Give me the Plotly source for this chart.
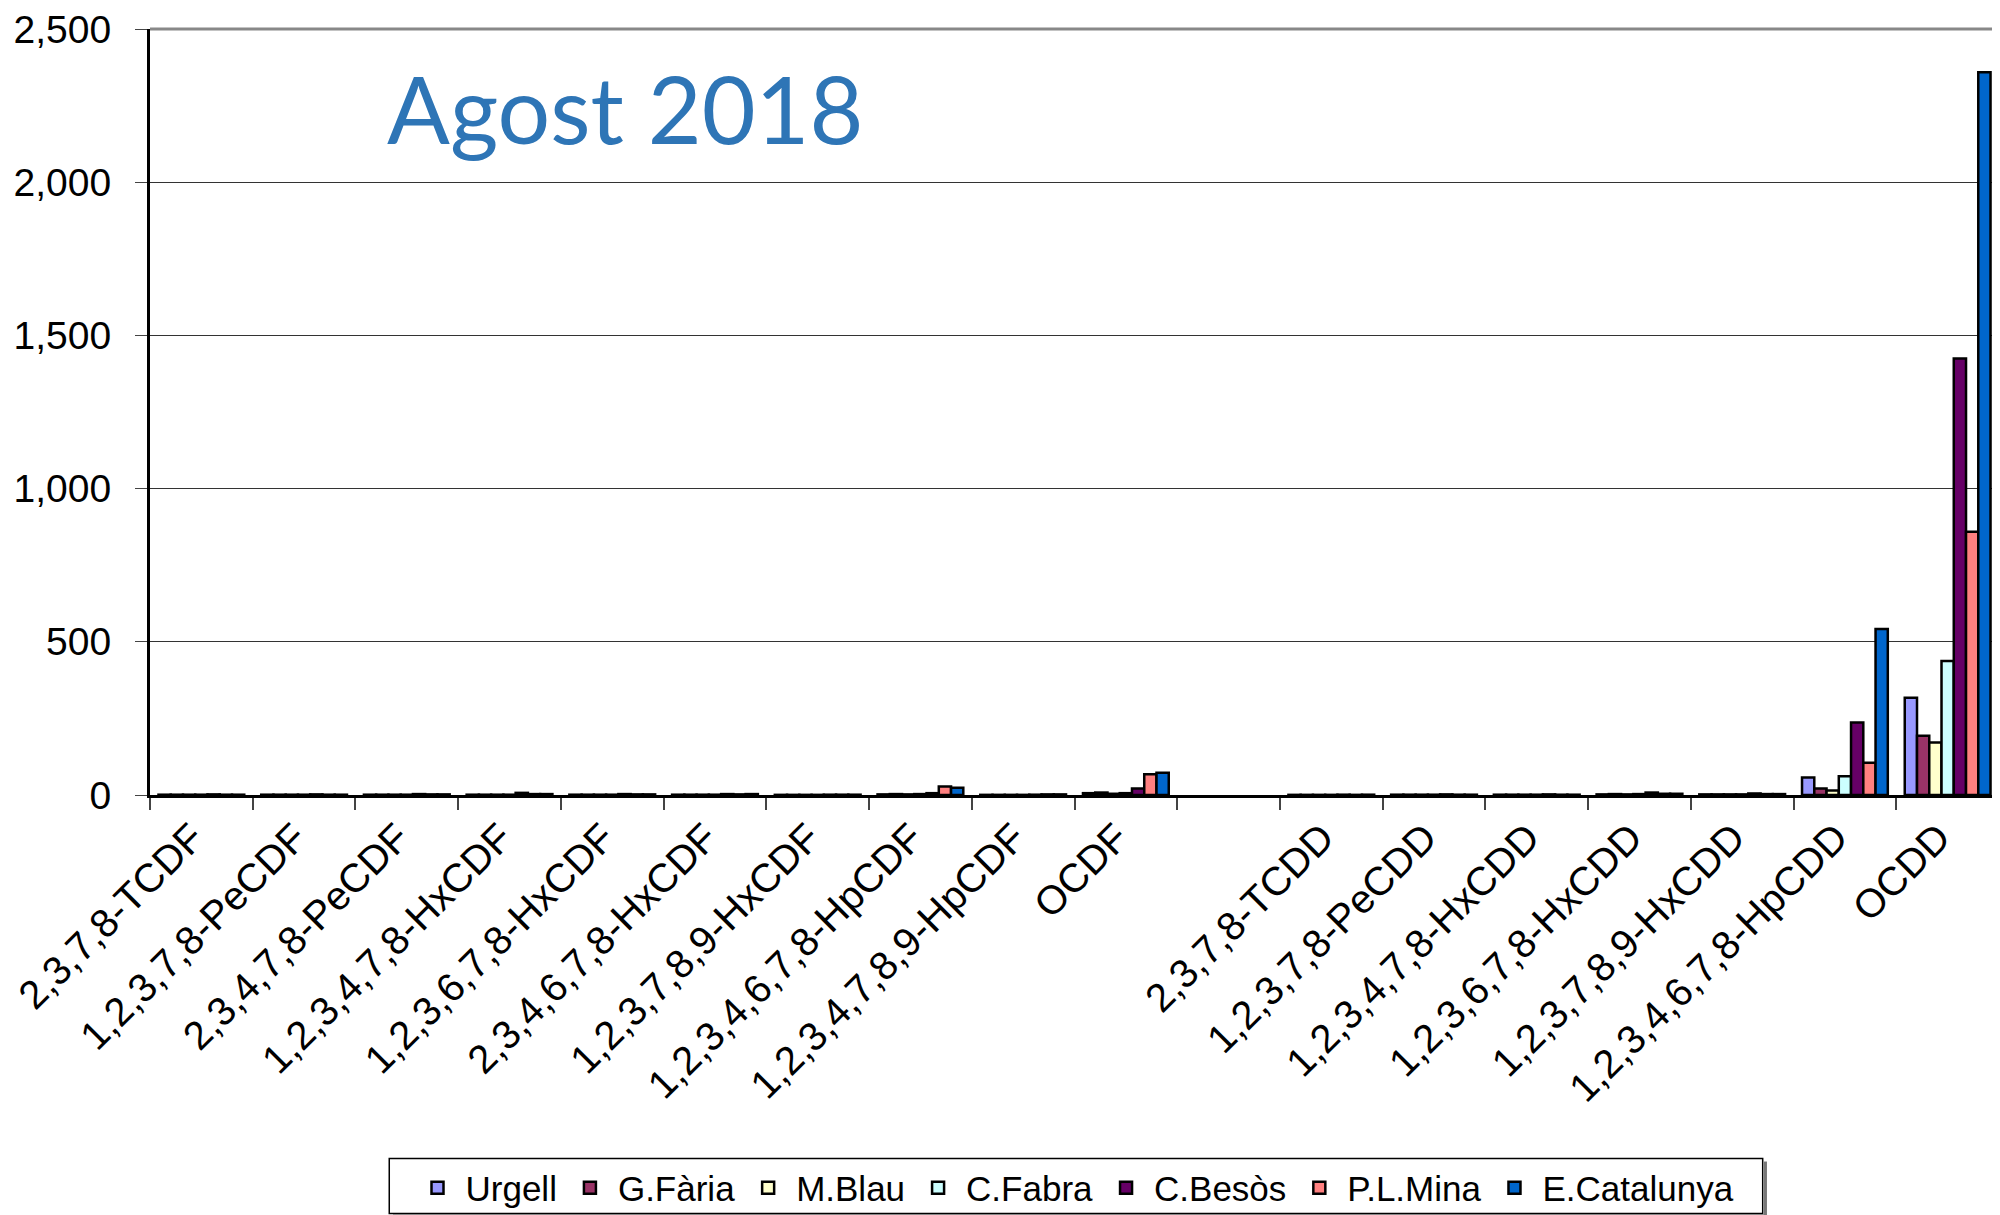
import plotly.graph_objects as go

categories = ["2,3,7,8-TCDF", "1,2,3,7,8-PeCDF", "2,3,4,7,8-PeCDF", "1,2,3,4,7,8-HxCDF",
              "1,2,3,6,7,8-HxCDF", "2,3,4,6,7,8-HxCDF", "1,2,3,7,8,9-HxCDF",
              "1,2,3,4,6,7,8-HpCDF", "1,2,3,4,7,8,9-HpCDF", "OCDF", " ",
              "2,3,7,8-TCDD", "1,2,3,7,8-PeCDD", "1,2,3,4,7,8-HxCDD", "1,2,3,6,7,8-HxCDD",
              "1,2,3,7,8,9-HxCDD", "1,2,3,4,6,7,8-HpCDD", "OCDD"]

series_names = ["Urgell", "G.Fària", "M.Blau", "C.Fabra", "C.Besòs", "P.L.Mina", "E.Catalunya"]

urgell      = [1, 1, 1, 1, 1, 1, 0.5, 2, 0.5, 6, None, 0.5, 1, 1, 2, 2, 57, 317]
g_faria     = [1, 1, 1, 1, 1, 1, 0.5, 3, 0.5, 8, None, 0.5, 1, 1, 3, 2, 21, 193]
m_blau      = [1, 1, 1, 1, 1, 1, 0.5, 2, 0.5, 4, None, 0.5, 1, 1, 2, 2, 15, 171]
c_fabra     = [1, 1, 1, 1, 1, 1, 0.5, 3, 0.5, 6, None, 0.5, 1, 1, 3, 2, 61, 437]
c_besos     = [2, 2, 3, 7, 3, 3, 1, 6, 1, 21, None, 1, 2, 2, 8, 5, 237, 1425]
pl_mina     = [1, 1, 2, 3, 2, 2, 1, 28, 2, 68, None, 0.5, 1, 1, 4, 3, 105, 859]
e_catalunya = [1, 1, 2, 3, 2, 3, 1, 24, 2, 73, None, 1, 1, 1, 4, 3, 542, 2359]

series_values = [urgell, g_faria, m_blau, c_fabra, c_besos, pl_mina, e_catalunya]
colors = ["#9999FF", "#993366", "#FFFFCC", "#CCFFFF", "#660066", "#FF8080", "#0066CC"]

y_tickvals = [0, 500, 1000, 1500, 2000, 2500]
y_ticktext = ["0", "500", "1,000", "1,500", "2,000", "2,500"]

title_text = "Agost 2018"

fig = go.Figure()
for name, vals, col in zip(series_names, series_values, colors):
    fig.add_trace(go.Bar(
        x=categories, y=vals, name=name,
        marker=dict(color=col, line=dict(color="black", width=2.5)),
    ))

font_family = "Liberation Sans, Arial, sans-serif"

# page body adds an 8px margin, so the figure is 8px smaller than the window
W, H = 1992, 1207
L, R, T, B = 142, 1, 21, 420

fig.update_layout(
    width=W, height=H,
    margin=dict(l=L, r=R, t=T, b=B, autoexpand=False),
    paper_bgcolor="white", plot_bgcolor="white",
    barmode="group", bargap=0.165, bargroupgap=0,
    font=dict(family=font_family, color="black"),
    showlegend=True,
    legend=dict(
        orientation="h", x=0.5, xanchor="center", y=-0.513, yanchor="middle",
        font=dict(size=35, family=font_family, color="black"),
        borderwidth=0, bgcolor="rgba(0,0,0,0)",
        itemwidth=46, traceorder="normal",
    ),
    annotations=[dict(
        text=title_text, xref="paper", yref="paper", x=0.127, y=0.897,
        xanchor="left", yanchor="middle", showarrow=False,
        font=dict(family="Lato, Open Sans, sans-serif", size=93, color="#2E75B6"),
    )],
)

fig.update_xaxes(
    type="category", categoryorder="array", categoryarray=categories,
    tickangle=-45, tickfont=dict(size=40, family=font_family, color="black"),
    ticklabelshift=-9,
    showline=True, linecolor="black", linewidth=3,
    ticks="outside", tickson="boundaries", ticklen=12, tickcolor="#444444", tickwidth=2,
    showgrid=False, mirror=False, automargin=False,
)
fig.update_yaxes(
    range=[0, 2500], tickvals=y_tickvals, ticktext=y_ticktext,
    tickfont=dict(size=39, family=font_family, color="black"),
    showline=True, linecolor="black", linewidth=3,
    ticks="outside", ticklen=12, tickcolor="#444444", tickwidth=1,
    ticklabelstandoff=16, ticklabeloverflow="allow",
    showgrid=True, gridcolor="#333333", gridwidth=1,
    zeroline=False, automargin=False,
)

# plot frame (top and right)
fig.add_shape(type="line", xref="paper", yref="paper", x0=1, x1=1, y0=0, y1=1,
              line=dict(color="#cccccc", width=2))
fig.add_shape(type="line", xref="paper", yref="paper", x0=0, x1=1, y0=1, y1=1,
              line=dict(color="#888888", width=3))

# legend box with shadow
lx0, lx1, ly0, ly1 = 0.1294, 0.8722, -0.5464, -0.4745
fig.add_shape(type="rect", xref="paper", yref="paper", x0=lx0, x1=lx1, y0=ly0, y1=ly1,
              line=dict(color="black", width=1.5), fillcolor="white", layer="below")
fig.add_shape(type="line", xref="paper", yref="paper", x0=lx0 + 0.002, x1=lx1 + 0.0015,
              y0=ly0 - 0.003, y1=ly0 - 0.003, line=dict(color="#777777", width=3))
fig.add_shape(type="line", xref="paper", yref="paper", x0=lx1 + 0.0015, x1=lx1 + 0.0015,
              y0=ly0 - 0.003, y1=ly1 - 0.004, line=dict(color="#777777", width=3))

fig.write_html("out.html")
